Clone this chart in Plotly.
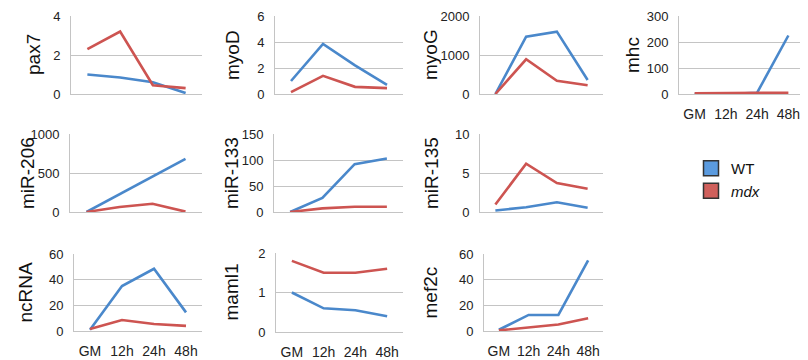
import plotly.graph_objects as go

categories = ["GM", "12h", "24h", "48h"]

genes = ["pax7", "myoD", "myoG", "mhc", "miR-206", "miR-133", "miR-135",
         "ncRNA", "maml1", "mef2c"]

wt_pax7 = [1.0, 0.85, 0.6, 0.05]
mdx_pax7 = [2.3, 3.2, 0.45, 0.3]
wt_myod = [1.0, 3.85, 2.2, 0.7]
mdx_myod = [0.15, 1.4, 0.55, 0.45]
wt_myog = [0, 1470, 1600, 360]
mdx_myog = [0, 890, 340, 225]
wt_mhc = [0, 0, 5, 225]
mdx_mhc = [3, 3, 4, 5]
wt_mir206 = [0, 225, 455, 680]
mdx_mir206 = [0, 65, 105, 5]
wt_mir133 = [0, 27, 92, 103]
mdx_mir133 = [0, 7, 10, 10]
wt_mir135 = [0.2, 0.6, 1.25, 0.55]
mdx_mir135 = [0.95, 6.2, 3.7, 2.97]
wt_ncrna = [1, 35, 48.5, 14.5]
mdx_ncrna = [1.5, 8.6, 5.5, 4]
wt_maml1 = [1.0, 0.6, 0.55, 0.4]
mdx_maml1 = [1.8, 1.5, 1.5, 1.6]
wt_mef2c = [1, 12.5, 12.5, 55]
mdx_mef2c = [0.5, 3, 5, 10]

y_ticks = [
    [0, 2, 4], [0, 2, 4, 6], [0, 1000, 2000], [0, 100, 200, 300],
    [0, 500, 1000], [0, 50, 100, 150], [0, 5, 10],
    [0, 20, 40, 60], [0, 1, 2], [0, 20, 40, 60],
]
wt_series = [wt_pax7, wt_myod, wt_myog, wt_mhc, wt_mir206, wt_mir133,
             wt_mir135, wt_ncrna, wt_maml1, wt_mef2c]
mdx_series = [mdx_pax7, mdx_myod, mdx_myog, mdx_mhc, mdx_mir206, mdx_mir133,
              mdx_mir135, mdx_ncrna, mdx_maml1, mdx_mef2c]

# page body has an 8px margin; figure fills the rest of the 808x360 window
OFF = 8
W, H = 800, 352
BLUE = "#4A88CB"
RED = "#CD5451"
FONT = "Liberation Sans, Arial"


def px(x):
    return (x - OFF) / W


def py(y):
    return 1 - (y - OFF) / H


# pixel boxes (window coords) of plot areas: (x0, x1, ytop, ybottom, title x)
boxes = [
    (71, 202, 16, 94, 33), (275, 403, 16, 94, 232), (480, 603, 16, 94, 430),
    (679, 804, 16, 94, 632),
    (70, 202, 134, 212, 27), (274, 403, 134, 212, 231), (480, 603, 134, 212, 431),
    (74, 202, 254, 331, 25), (276, 403, 253, 332, 231), (484, 603, 254, 331, 430),
]
show_x = [False, False, False, True, False, False, False, True, True, True]

fig = go.Figure()
layout = {}
annotations = []
for i, g in enumerate(genes):
    x0, x1, yt, yb, tx = boxes[i]
    n = i + 1
    xa = "x" if n == 1 else f"x{n}"
    ya = "y" if n == 1 else f"y{n}"
    fig.add_trace(go.Scatter(x=categories, y=wt_series[i], mode="lines",
                             line=dict(color=BLUE, width=2.6), xaxis=xa, yaxis=ya,
                             showlegend=False, hoverinfo="skip", cliponaxis=False))
    fig.add_trace(go.Scatter(x=categories, y=mdx_series[i], mode="lines",
                             line=dict(color=RED, width=2.6), xaxis=xa, yaxis=ya,
                             showlegend=False, hoverinfo="skip", cliponaxis=False))
    xk = "xaxis" if n == 1 else f"xaxis{n}"
    yk = "yaxis" if n == 1 else f"yaxis{n}"
    tv = y_ticks[i]
    layout[xk] = dict(domain=[px(x0), px(x1)], anchor=ya, type="category",
                      categoryorder="array", categoryarray=categories,
                      range=[-0.5, 3.5], showgrid=False, zeroline=False,
                      showline=True, linecolor="#c4c4c4", linewidth=1,
                      ticks="", showticklabels=show_x[i], automargin=False,
                      ticklabelstandoff=7,
                      tickfont=dict(family=FONT, size=14, color="#222"))
    layout[yk] = dict(domain=[py(yb), py(yt)], anchor=xa,
                      range=[tv[0], tv[-1]], tickvals=tv, showgrid=True,
                      gridcolor="#c4c4c4", gridwidth=1, zeroline=False,
                      showline=True, linecolor="#c4c4c4", linewidth=1, ticks="",
                      automargin=False, ticklabelstandoff=7,
                      tickfont=dict(family=FONT, size=13, color="#222"))
    annotations.append(dict(text=g, x=px(tx), y=py((yt + yb) / 2),
                            xref="paper", yref="paper", textangle=-90,
                            showarrow=False, xanchor="center", yanchor="middle",
                            font=dict(family=FONT, size=19, color="#111")))

# legend entries
fig.add_trace(go.Scatter(x=[None], y=[None], mode="markers", name="WT",
                         marker=dict(symbol="square", size=15, color="#5B9BDF",
                                     line=dict(color="#333", width=1.5))))
fig.add_trace(go.Scatter(x=[None], y=[None], mode="markers", name="<i>mdx</i>",
                         marker=dict(symbol="square", size=15, color="#D0605C",
                                     line=dict(color="#333", width=1.5))))

fig.update_layout(
    width=W, height=H, margin=dict(l=0, r=0, t=0, b=0, autoexpand=False),
    paper_bgcolor="white", plot_bgcolor="white",
    annotations=annotations,
    legend=dict(x=px(691), y=py(152), xanchor="left", yanchor="top",
                font=dict(family=FONT, size=15, color="#111"),
                itemwidth=30, bgcolor="rgba(0,0,0,0)", tracegroupgap=0),
    **layout,
)

fig.write_html("out.html")
